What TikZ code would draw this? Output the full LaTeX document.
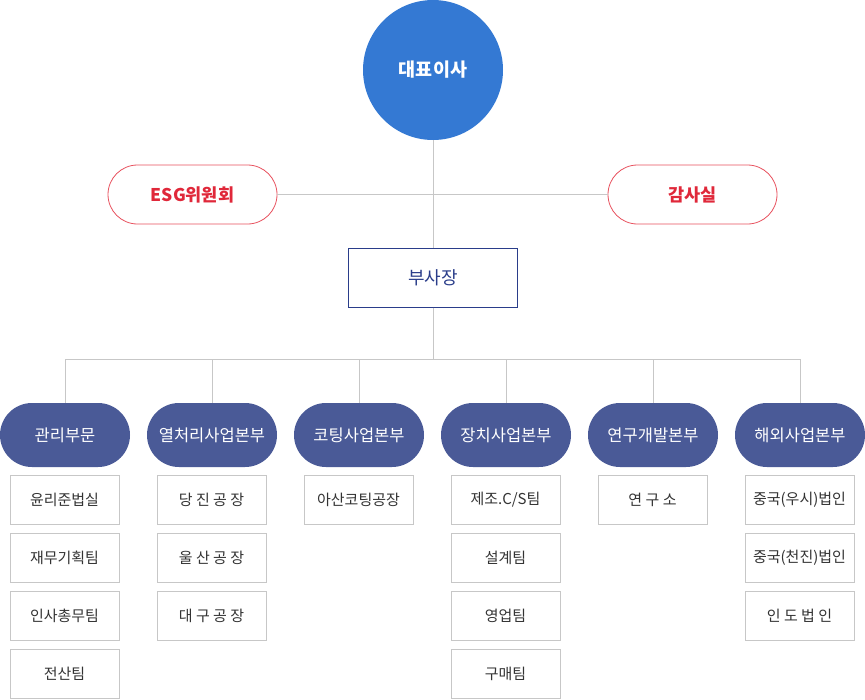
\documentclass[tikz,border=0pt]{standalone}
\usepackage{fontspec}
\setmainfont{Noto Sans CJK KR}
\begin{document}
\begin{tikzpicture}[x=1pt,y=-1pt,
  ln/.style={draw=black!22,line width=0.8pt},
  ceo/.style={circle,fill=ceoblue,minimum size=140pt,inner sep=0pt,text=white,font=\fontsize{18.5}{18.5}\selectfont\bfseries},
  redpill/.style={rounded corners=29.5pt,draw=redline,line width=0.8pt,fill=white,minimum width=169pt,minimum height=59pt,inner sep=0pt,text=redtext,font=\fontsize{17.5}{17.5}\selectfont\bfseries},
  vpbox/.style={draw=navyline,line width=1pt,fill=white,minimum width=169pt,minimum height=59pt,inner sep=0pt,text=navyline,font=\fontsize{18}{18}\selectfont},
  divpill/.style={rounded corners=32pt,fill=divblue,minimum width=130pt,minimum height=64pt,inner sep=0pt,text=white,font=\fontsize{16.5}{16.5}\selectfont},
  subbox/.style={draw=black!22,line width=0.8pt,fill=white,minimum width=109pt,minimum height=49pt,inner sep=0pt,text=black!80,font=\fontsize{15}{15}\selectfont}
]
\definecolor{ceoblue}{HTML}{3479D3}
\definecolor{redline}{HTML}{E8505D}
\definecolor{redtext}{HTML}{E0283A}
\definecolor{navyline}{HTML}{2A3D8A}
\definecolor{divblue}{HTML}{4A5A97}
\useasboundingbox (0,0) rectangle (865,699);

\node[ceo] (ceo) at (433,70) {대표이사};
\node[redpill] (esg) at (192.5,194.5) {ESG위원회};
\node[redpill] (audit) at (692.5,194.5) {감사실};
\node[vpbox] (vp) at (433,277.5) {부사장};

\coordinate (j2) at (433,359);
\draw[ln] (ceo.south) -- (vp.north);
\draw[ln] (esg.east) -- (audit.west);
\draw[ln] (vp.south) -- (j2);

\foreach \n/\x/\t in {d1/65/관리부문,d2/212/열처리사업본부,d3/359/코팅사업본부,d4/506/장치사업본부,d5/653/연구개발본부,d6/800/해외사업본부}{
  \node[divpill] (\n) at (\x,435) {\t};
  \coordinate (\n top) at (\x,359);
  \draw[ln] (\n top) -- (\n.north);
}
\draw[ln] (d1top) -- (d6top);

% sub boxes
\foreach \n/\x/\y/\t in {
  a1/64.5/499.5/윤리준법실, a2/64.5/557.5/재무기획팀, a3/64.5/615.5/인사총무팀, a4/64.5/673.5/전산팀,
  b1/211.5/499.5/당 진 공 장, b2/211.5/557.5/울 산 공 장, b3/211.5/615.5/대 구 공 장,
  c1/358.5/499.5/아산코팅공장,
  e1/505.5/499.5/{제조.C/S팀}, e2/505.5/557.5/설계팀, e3/505.5/615.5/영업팀, e4/505.5/673.5/구매팀,
  f1/652.5/499.5/연 구 소,
  g1/799.5/499.5/중국(우시)법인, g2/799.5/557.5/중국(천진)법인, g3/799.5/615.5/인 도 법 인}{
  \node[subbox] (\n) at (\x,\y) {\t};
}
\end{tikzpicture}
\end{document}
